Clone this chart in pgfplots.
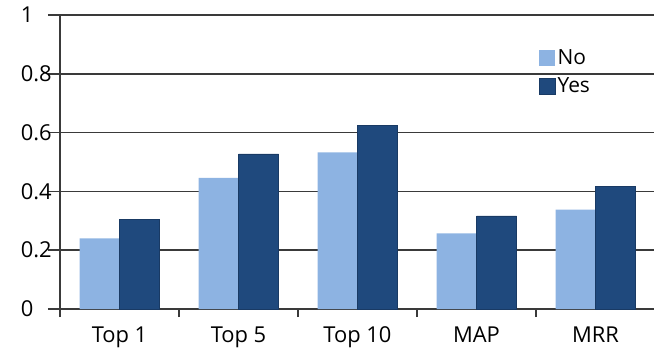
\documentclass[border=0pt]{standalone}
\usepackage{fontspec}
\setmainfont{Open Sans}
\usepackage{pgfplots}
\pgfplotsset{compat=1.18}
\definecolor{cNo}{HTML}{8DB3E2}
\definecolor{cYes}{HTML}{1F497D}
\definecolor{cGrid}{HTML}{3A3A3A}
\newcommand\yl[1]{\makebox[33bp][l]{#1}}
\begin{document}
\begin{tikzpicture}
\begin{axis}[
  scale only axis,
  width=595bp, height=294bp,
  xmin=-0.5, xmax=4.5,
  ymin=0, ymax=1,
  ybar=0pt,
  bar width=40bp,
  axis lines*=left,
  axis line style={cGrid, line width=1.5pt},
  xtick={0,1,2,3,4},
  xticklabels={Top 1, Top 5, Top 10, MAP, MRR},
  minor xtick={-0.5,0.5,1.5,2.5,3.5,4.5},
  ytick={0,0.2,0.4,0.6,0.8,1},
  yticklabels={\yl{0},\yl{0.2},\yl{0.4},\yl{0.6},\yl{0.8},\yl{1}},
  tick align=outside,
  major x tick style={draw=none},
  minor x tick style={cGrid, line width=1.5pt},
  minor tick length=8bp,
  major tick length=12bp,
  y tick style={cGrid, line width=1.5pt},
  ymajorgrids,
  grid style={cGrid, line width=1.5pt},
  /pgf/number format/assume math mode=true,
  tick label style={font=\fontsize{22}{26}\selectfont},
  yticklabel style={anchor=east, inner xsep=0pt, xshift=6bp},
  xticklabel style={yshift=-2bp},
  legend style={draw=none, fill=none, at={(0.805,0.89)}, anchor=north west,
    font=\fontsize{21}{25}\selectfont, row sep=8bp, inner sep=0pt},
  legend cell align=left,
  legend image code/.code={\fill[#1] (-3bp,-8bp) rectangle (13bp,8bp);},
]
\addplot[fill=cNo, draw=none] coordinates {(0,0.240) (1,0.446) (2,0.533) (3,0.257) (4,0.338)};
\addplot[fill=cYes, draw=cYes!80!black, line width=0.4pt] coordinates {(0,0.306) (1,0.528) (2,0.625) (3,0.317) (4,0.416)};
\legend{No, Yes}
\end{axis}
\pgfresetboundingbox
\path[use as bounding box] ([shift={(-60bp,-40bp)}]current axis.south west) rectangle ([shift={(-1bp,15bp)}]current axis.north east);
\end{tikzpicture}
\end{document}
